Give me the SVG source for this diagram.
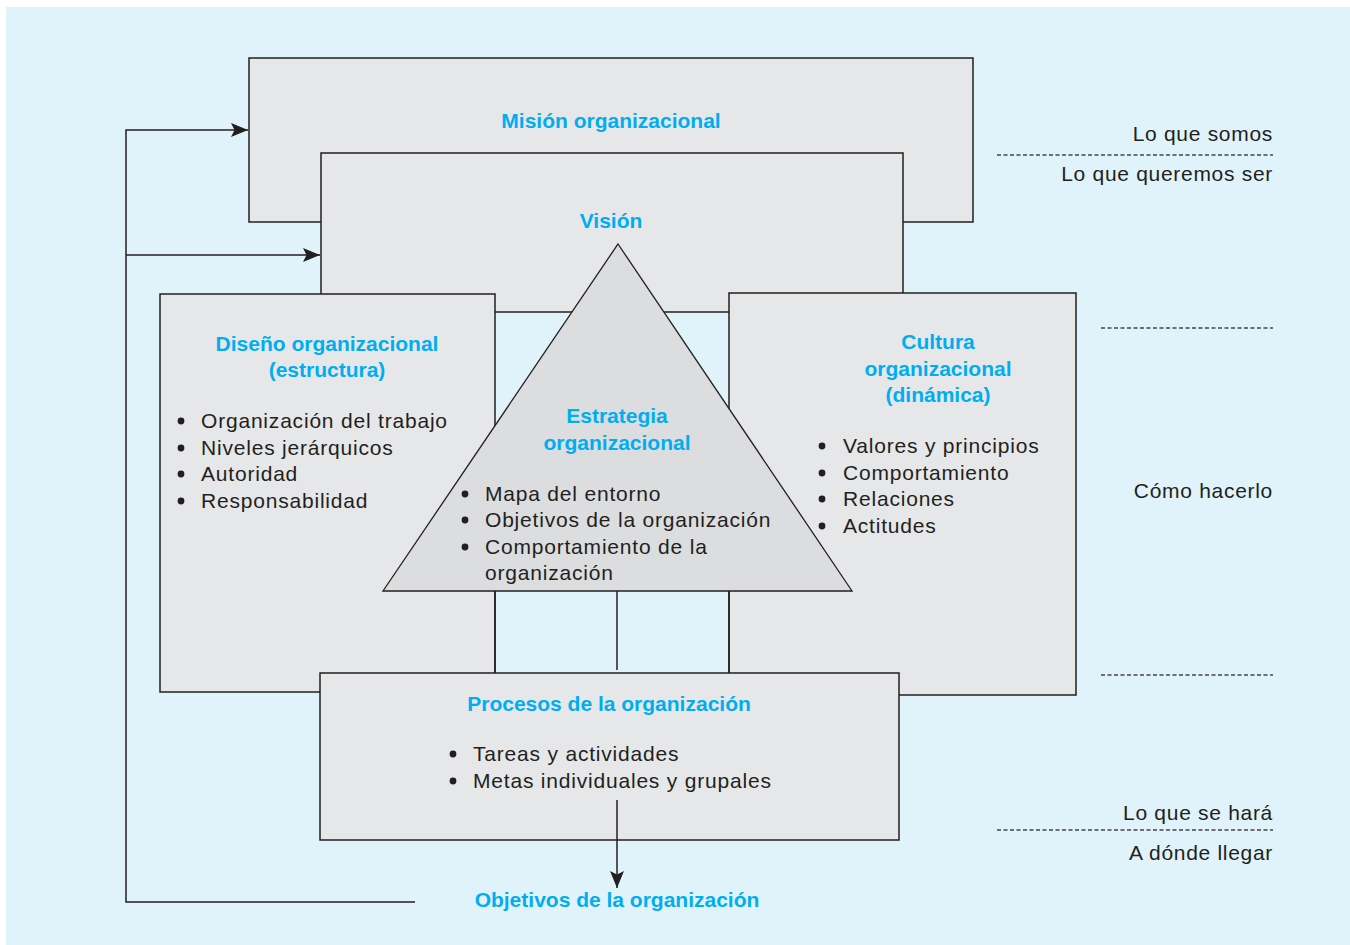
<svg xmlns="http://www.w3.org/2000/svg" width="1350" height="945" viewBox="0 0 1350 945">
<defs>
<marker id="ah" markerWidth="18" markerHeight="14" refX="17" refY="7" orient="auto" markerUnits="userSpaceOnUse">
<path d="M0,0 L17,7 L0,14 L3.5,7 Z" fill="#231f20"/>
</marker>
<style>
.box{fill:#e6e7e9;stroke:#231f20;stroke-width:1.5}
.tri{fill:#dcdddf;stroke:#231f20;stroke-width:1.3}
.ttl{font-family:"Liberation Sans",Arial,sans-serif;font-weight:bold;font-size:21px;fill:#00aeef;text-anchor:middle}
.txt{font-family:"Liberation Sans",Arial,sans-serif;font-size:21px;fill:#231f20;letter-spacing:0.8px}
.rt{font-family:"Liberation Sans",Arial,sans-serif;font-size:21px;fill:#231f20;text-anchor:end;letter-spacing:0.7px}
.dash{stroke:#444;stroke-width:1.3;stroke-dasharray:4 2.5;fill:none}
.ln{stroke:#231f20;stroke-width:1.5;fill:none}
.bul{fill:#231f20}
</style>
</defs>
<rect x="6" y="7" width="1344" height="938" fill="#e0f3fb"/>

<g id="mision">
<rect class="box" x="249" y="58" width="724" height="164"/>
<text class="ttl" x="611" y="128">Misión organizacional</text>
</g>

<g id="vision">
<rect class="box" x="321" y="153" width="582" height="159"/>
<text class="ttl" x="611" y="228">Visión</text>
</g>

<g id="diseno">
<rect class="box" x="160" y="294" width="335" height="398"/>
<text class="ttl" x="327" y="351">Diseño organizacional</text>
<text class="ttl" x="327" y="377">(estructura)</text>
<circle class="bul" cx="181" cy="421" r="3.4"/>
<circle class="bul" cx="181" cy="448" r="3.4"/>
<circle class="bul" cx="181" cy="474" r="3.4"/>
<circle class="bul" cx="181" cy="501" r="3.4"/>
<text class="txt" x="201" y="428">Organización del trabajo</text>
<text class="txt" x="201" y="455">Niveles jerárquicos</text>
<text class="txt" x="201" y="481">Autoridad</text>
<text class="txt" x="201" y="508">Responsabilidad</text>
</g>

<g id="cultura">
<rect class="box" x="729" y="293" width="347" height="402"/>
<text class="ttl" x="938" y="349">Cultura</text>
<text class="ttl" x="938" y="376">organizacional</text>
<text class="ttl" x="938" y="402">(dinámica)</text>
<circle class="bul" cx="822" cy="446" r="3.4"/>
<circle class="bul" cx="822" cy="473" r="3.4"/>
<circle class="bul" cx="822" cy="499" r="3.4"/>
<circle class="bul" cx="822" cy="526" r="3.4"/>
<text class="txt" x="843" y="453">Valores y principios</text>
<text class="txt" x="843" y="480">Comportamiento</text>
<text class="txt" x="843" y="506">Relaciones</text>
<text class="txt" x="843" y="533">Actitudes</text>
</g>

<g id="estrategia">
<polygon class="tri" points="618,244 852,591 383,591"/>
<text class="ttl" x="617" y="423">Estrategia</text>
<text class="ttl" x="617" y="450">organizacional</text>
<circle class="bul" cx="465" cy="494" r="3.4"/>
<circle class="bul" cx="465" cy="520" r="3.4"/>
<circle class="bul" cx="465" cy="547" r="3.4"/>
<text class="txt" x="485" y="501">Mapa del entorno</text>
<text class="txt" x="485" y="527">Objetivos de la organización</text>
<text class="txt" x="485" y="554">Comportamiento de la</text>
<text class="txt" x="485" y="580">organización</text>
</g>

<g id="procesos">
<rect class="box" x="320" y="673" width="579" height="167"/>
<text class="ttl" x="609" y="711">Procesos de la organización</text>
<circle class="bul" cx="453" cy="754" r="3.4"/>
<circle class="bul" cx="453" cy="781" r="3.4"/>
<text class="txt" x="473" y="761">Tareas y actividades</text>
<text class="txt" x="473" y="788">Metas individuales y grupales</text>
</g>

<g id="objetivos">
<text class="ttl" x="617" y="907">Objetivos de la organización</text>
</g>

<g id="labels">
<text class="rt" x="1273" y="141">Lo que somos</text>
<line class="dash" x1="997" y1="155" x2="1273" y2="155"/>
<text class="rt" x="1273" y="181">Lo que queremos ser</text>
<line class="dash" x1="1101" y1="328" x2="1273" y2="328"/>
<text class="rt" x="1273" y="498">Cómo hacerlo</text>
<line class="dash" x1="1101" y1="675" x2="1273" y2="675"/>
<text class="rt" x="1273" y="820">Lo que se hará</text>
<line class="dash" x1="997" y1="830" x2="1273" y2="830"/>
<text class="rt" x="1273" y="860">A dónde llegar</text>
</g>

<g id="connectors">
<line class="ln" x1="495" y1="591" x2="495" y2="673"/>
<line class="ln" x1="729" y1="591" x2="729" y2="673"/>
<line class="ln" x1="617" y1="591" x2="617" y2="670"/>
<polyline class="ln" points="415,902 126,902 126,130 248,130" marker-end="url(#ah)"/>
<line class="ln" x1="126" y1="255" x2="320" y2="255" marker-end="url(#ah)"/>
<line class="ln" x1="617" y1="800" x2="617" y2="888" marker-end="url(#ah)"/>
</g>
</svg>
